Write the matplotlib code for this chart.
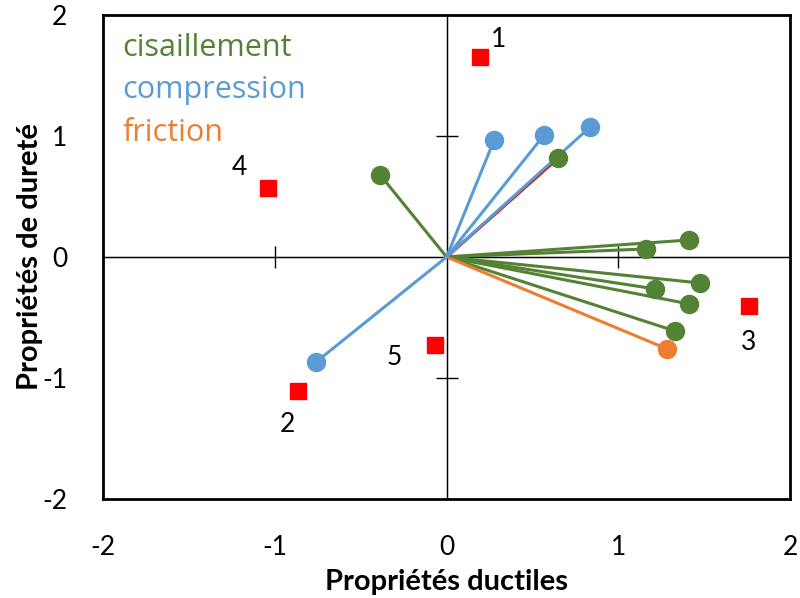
import matplotlib.pyplot as plt

# loadings (vectors from origin)
shear_x = [-0.387, 0.649, 1.162, 1.412, 1.476, 1.214, 1.412, 1.330]
shear_y = [0.678, 0.818, 0.066, 0.140, -0.215, -0.264, -0.388, -0.612]
comp_x = [0.277, 0.568, 0.836, -0.760]
comp_y = [0.967, 1.008, 1.074, -0.868]
fric_x = [1.284]
fric_y = [-0.760]

# samples (scores)
sample_x = [0.195, -0.865, 1.761, -1.039, -0.067]
sample_y = [1.653, -1.107, -0.405, 0.570, -0.727]
sample_lbl = ['1', '2', '3', '4', '5']
lbl_dx = [0.11, -0.06, 0.0, -0.17, -0.24]
lbl_dy = [0.14, -0.28, -0.30, 0.17, -0.10]

GREEN = '#548235'
BLUE = '#5B9BD5'
ORANGE = '#ED7D31'
RED = '#FF0000'

plt.rcParams['font.family'] = ['Lato', 'DejaVu Sans']
plt.rcParams['axes.unicode_minus'] = False

fig = plt.figure(figsize=(8, 5.98), dpi=100)
ax = fig.add_axes([0.129, 0.1656, 0.8585, 0.8094])
ax.set_xlim(-2, 2)
ax.set_ylim(-2, 2)

for x, y in zip(shear_x, shear_y):
    ax.plot([0, x], [0, y], color=GREEN, lw=2.2, zorder=3)
# red vector hidden under the blue one
ax.plot([0, shear_x[1]], [0, shear_y[1]], color=RED, lw=2.2, zorder=3.5)
for x, y in zip(comp_x, comp_y):
    ax.plot([0, x], [0, y], color=BLUE, lw=2.2, zorder=4)
for x, y in zip(fric_x, fric_y):
    ax.plot([0, x], [0, y], color=ORANGE, lw=2.2, zorder=3)

ax.plot(shear_x, shear_y, 'o', color=GREEN, ms=13, zorder=5)
ax.plot(comp_x, comp_y, 'o', color=BLUE, ms=13, zorder=5)
ax.plot(fric_x, fric_y, 'o', color=ORANGE, ms=13, zorder=5)
ax.plot(sample_x, sample_y, 's', color=RED, ms=12, zorder=5)

for x, y, s, dx, dy in zip(sample_x, sample_y, sample_lbl, lbl_dx, lbl_dy):
    ax.text(x + dx, y + dy, s, fontsize=19, ha='center', va='center')

# centre axes with crossing ticks
ax.axhline(0, color='black', lw=1, zorder=2)
ax.axvline(0, color='black', lw=1, zorder=2)
sx = ax.secondary_xaxis(0.5)
sx.set_xticks([-1, 1])
sx.tick_params(direction='inout', length=16, width=1)
sx.set_xticklabels([])
sx.spines['bottom'].set_visible(False)
sy = ax.secondary_yaxis(0.5)
sy.set_yticks([-1, 1])
sy.tick_params(direction='inout', length=16, width=1)
sy.set_yticklabels([])
sy.spines['left'].set_visible(False)

ax.set_xticks([-2, -1, 0, 1, 2])
ax.set_yticks([-2, -1, 0, 1, 2])
ax.tick_params(length=0, labelsize=19, pad=26)
for s in ax.spines.values():
    s.set_linewidth(2)

ax.set_xlabel('Propriétés ductiles', fontsize=21, fontweight='bold')
ax.set_ylabel('Propriétés de dureté', fontsize=21, fontweight='bold')
ax.xaxis.set_label_coords(0.5, -0.145)
ax.yaxis.set_label_coords(-0.088, 0.5)

leg_font = ['Open Sans', 'DejaVu Sans']
ax.text(0.028, 0.931, 'cisaillement', color=GREEN, fontsize=22,
        transform=ax.transAxes, va='center', family=leg_font)
ax.text(0.028, 0.844, 'compression', color=BLUE, fontsize=22,
        transform=ax.transAxes, va='center', family=leg_font)
ax.text(0.028, 0.756, 'friction', color=ORANGE, fontsize=22,
        transform=ax.transAxes, va='center', family=leg_font)

fig.savefig('out.png', dpi=100)
